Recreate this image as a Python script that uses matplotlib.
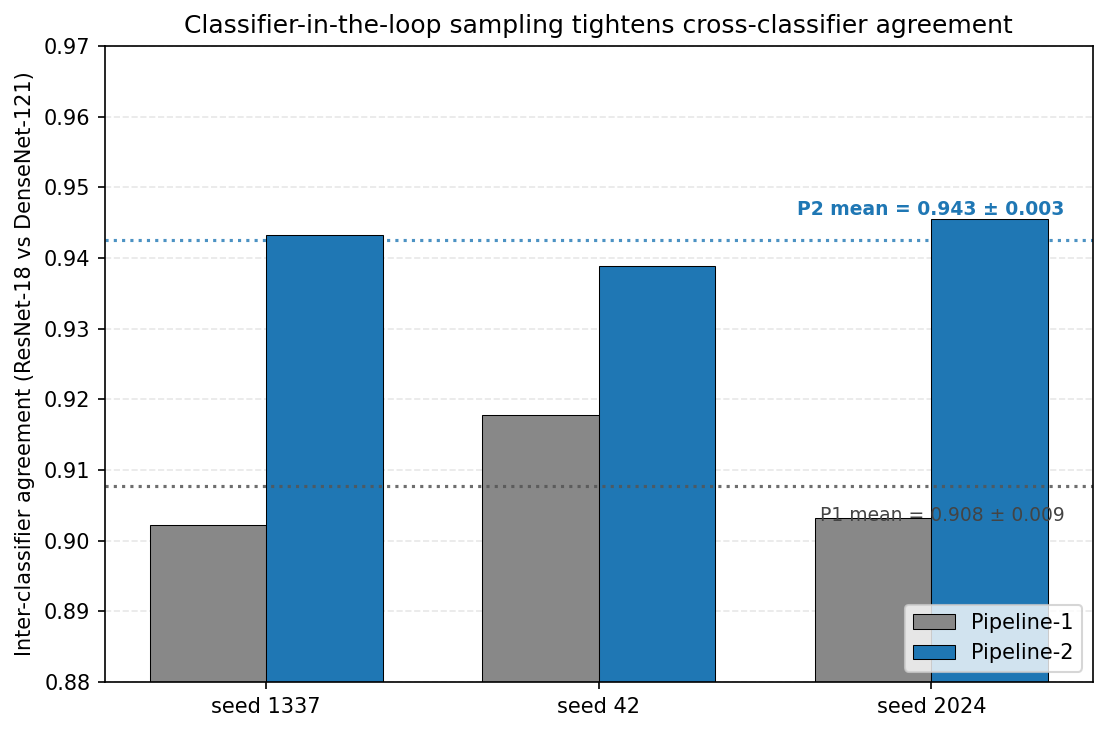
import matplotlib.pyplot as plt
import numpy as np

# ----------------------- Data ---------------------------
seeds = ["seed 1337", "seed 42", "seed 2024"]
p1_agree = [0.9022, 0.9178, 0.9032]
p2_agree = [0.9433, 0.9389, 0.9455]
p1_label = "P1 mean = 0.908 ± 0.009"
p2_label = "P2 mean = 0.943 ± 0.003"

p1_mean = np.mean(p1_agree)
p2_mean = np.mean(p2_agree)

# ----------------------- Plotting ---------------------------
fig, ax = plt.subplots(figsize=(7.39, 4.88), dpi=150)
x = np.arange(len(seeds))
w = 0.35

ax.bar(x - w / 2, p1_agree, w, color="#888888", edgecolor="black", linewidth=0.5, label="Pipeline-1")
ax.bar(x + w / 2, p2_agree, w, color="#1f77b4", edgecolor="black", linewidth=0.5, label="Pipeline-2")

ax.axhline(p1_mean, color="#555555", linestyle=":", linewidth=1.5, alpha=0.85)
ax.axhline(p2_mean, color="#1f77b4", linestyle=":", linewidth=1.5, alpha=0.8)

ax.text(2.4, p2_mean + 0.003, p2_label, ha="right", va="bottom",
        color="#1f77b4", fontsize=9, fontweight="bold")
ax.text(2.4, p1_mean - 0.0055, p1_label, ha="right", va="bottom",
        color="#444444", fontsize=9)

ax.set_xticks(x)
ax.set_xticklabels(seeds)
ax.set_ylim(0.88, 0.97)
ax.set_ylabel("Inter-classifier agreement (ResNet-18 vs DenseNet-121)")
ax.set_title("Classifier-in-the-loop sampling tightens cross-classifier agreement", fontsize=12)
ax.yaxis.grid(True, linestyle="--", alpha=0.3)
ax.set_axisbelow(True)
ax.legend(loc="lower right")

fig.subplots_adjust(left=0.0947, right=0.9856, top=0.9372, bottom=0.0683)
fig.savefig("out.png")
